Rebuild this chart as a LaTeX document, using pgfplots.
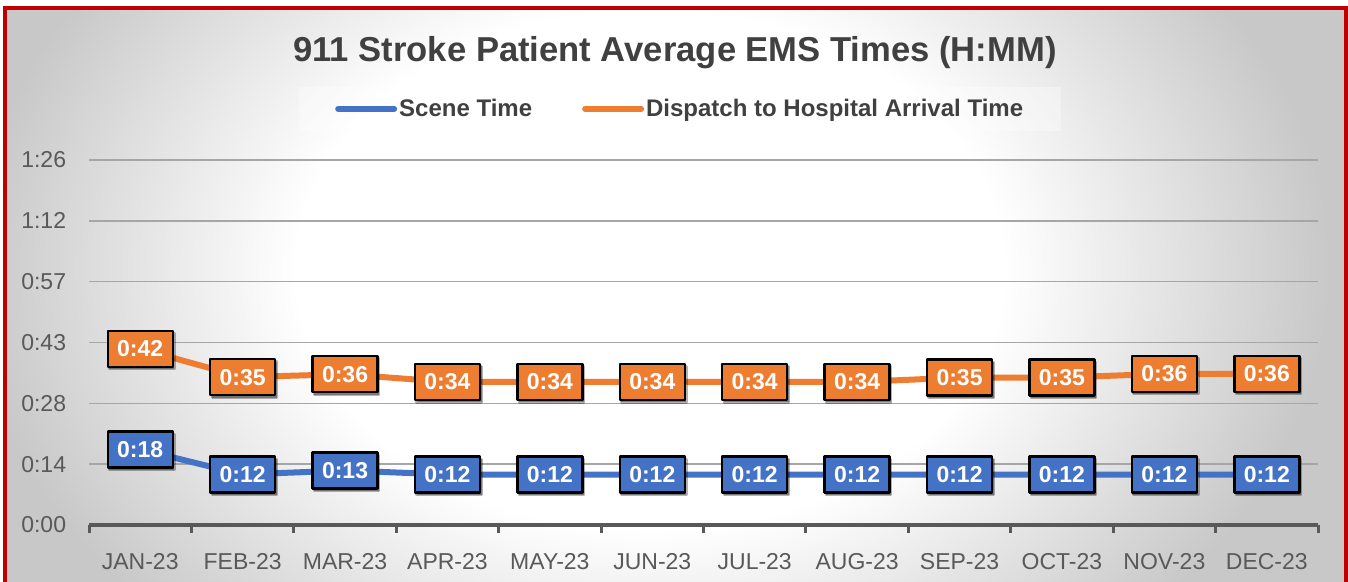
\documentclass[border=0pt]{standalone}
\usepackage{pgfplots}
\pgfplotsset{compat=1.18}
\usepackage{pgfplotstable}
\usepackage{fontspec}
\setmainfont{Liberation Sans}
\usetikzlibrary{shadows}
\definecolor{sblue}{HTML}{4472C4}
\definecolor{sorange}{HTML}{ED7D31}
\definecolor{txt}{HTML}{595959}
\definecolor{ttl}{HTML}{404040}
\definecolor{frame}{HTML}{C00000}
\definecolor{gridd}{HTML}{A6A6A6}
\definecolor{gridl}{HTML}{D6D6D6}
\definecolor{bgout}{HTML}{C8C8C8}
\pgfdeclareradialshading{bg}{\pgfpoint{0bp}{0bp}}{color(0bp)=(white); color(13bp)=(white); color(25bp)=(bgout); color(50bp)=(bgout)}

\pgfplotstableread{
x scene slab disp dlab
0 17.9 0:18 41.7 0:42
1 11.95 0:12 35.0 0:35
2 12.9 0:13 35.7 0:36
3 11.95 0:12 33.85 0:34
4 11.95 0:12 33.85 0:34
5 11.95 0:12 33.85 0:34
6 11.95 0:12 33.85 0:34
7 11.95 0:12 33.85 0:34
8 11.95 0:12 34.9 0:35
9 11.95 0:12 34.9 0:35
10 11.95 0:12 35.8 0:36
11 11.95 0:12 35.8 0:36
}\data

\begin{document}
\begin{tikzpicture}
\useasboundingbox (0pt,0pt) rectangle (674pt,291pt);
\begin{scope}
\clip (2.5pt,-10pt) rectangle (673pt,286.75pt);
\fill[bgout] (0pt,-12pt) rectangle (674pt,291pt);
\shade[shading=bg] (325pt,156pt) ellipse [x radius=340pt, y radius=250pt];
\end{scope}
\draw[frame, line width=2pt] (2.5pt,-10pt) rectangle (673pt,286.75pt);
\begin{axis}[
  at={(44.5pt,28.5pt)}, anchor=south west,
  scale only axis, width=614.5pt, height=182.5pt,
  xmin=-0.5, xmax=11.5, ymin=0, ymax=86.4,
  axis x line*=bottom, axis y line*=left,
  x axis line style={draw=txt, line width=2pt},
  y axis line style={draw=none},
  xtick={0,...,11},
  xticklabels={JAN-23,FEB-23,MAR-23,APR-23,MAY-23,JUN-23,JUL-23,AUG-23,SEP-23,OCT-23,NOV-23,DEC-23},
  major x tick style={draw=none},
  minor xtick={-0.5,0.5,...,11.5},
  minor x tick style={draw=txt, line width=1.5pt},
  minor tick length=4pt,
  tick align=outside,
  ytick={0,14.4,28.8,43.2},
  yticklabels={0:00,0:14,0:28,0:43},
  extra y ticks={57.6,72,86.4},
  extra y tick labels={0:57,1:12,1:26},
  extra y tick style={grid style={draw=gridl, line width=0.8pt}},
  ytick style={draw=none},
  ymajorgrids,
  major grid style={draw=gridd, line width=0.8pt},
  xticklabel style={anchor=center, inner sep=0pt, yshift=-14pt, font=\fontsize{11.5}{13}\selectfont, text=txt},
  yticklabel style={anchor=east, inner sep=0pt, xshift=-7pt, font=\fontsize{11.5}{13}\selectfont, text=txt},
  title={911 Stroke Patient Average EMS Times (H:MM)},
  title style={at={(0.4768,1.26)}, anchor=center, yshift=0pt, inner sep=0pt, font=\bfseries\fontsize{17.3}{20}\selectfont, text=ttl},
  legend style={at={(0.481,1.14)}, anchor=center, legend columns=2, draw=none,
    fill=white, fill opacity=0.35, text opacity=1, inner xsep=18pt, inner ysep=4pt,
    font=\bfseries\fontsize{12}{14}\selectfont, text=ttl,
    nodes={inner xsep=1pt},
    /tikz/every even column/.append style={column sep=24pt}},
  legend image code/.code={\draw[line width=3pt, line cap=round] (0pt,0pt) -- (28pt,0pt);},
  point meta=explicit symbolic,
  nodes near coords,
  every node near coord/.append style={anchor=center, draw=black, line width=1.2pt, text=white,
    font=\bfseries\fontsize{11.5}{13}\selectfont, minimum width=32.5pt, minimum height=18pt, inner sep=0pt,
    drop shadow={shadow xshift=0.8pt, shadow yshift=-1.2pt, opacity=0.3, fill=black}},
  clip=false,
]
\addplot[sblue, line width=3pt, no marks, line join=round,
  every node near coord/.append style={fill=sblue}] table[x=x, y=scene, meta=slab] {\data};
\addlegendentry{Scene Time}
\addplot[sorange, line width=3pt, no marks, line join=round,
  every node near coord/.append style={fill=sorange}] table[x=x, y=disp, meta=dlab] {\data};
\addlegendentry{Dispatch to Hospital Arrival Time}
\end{axis}
\end{tikzpicture}
\end{document}
